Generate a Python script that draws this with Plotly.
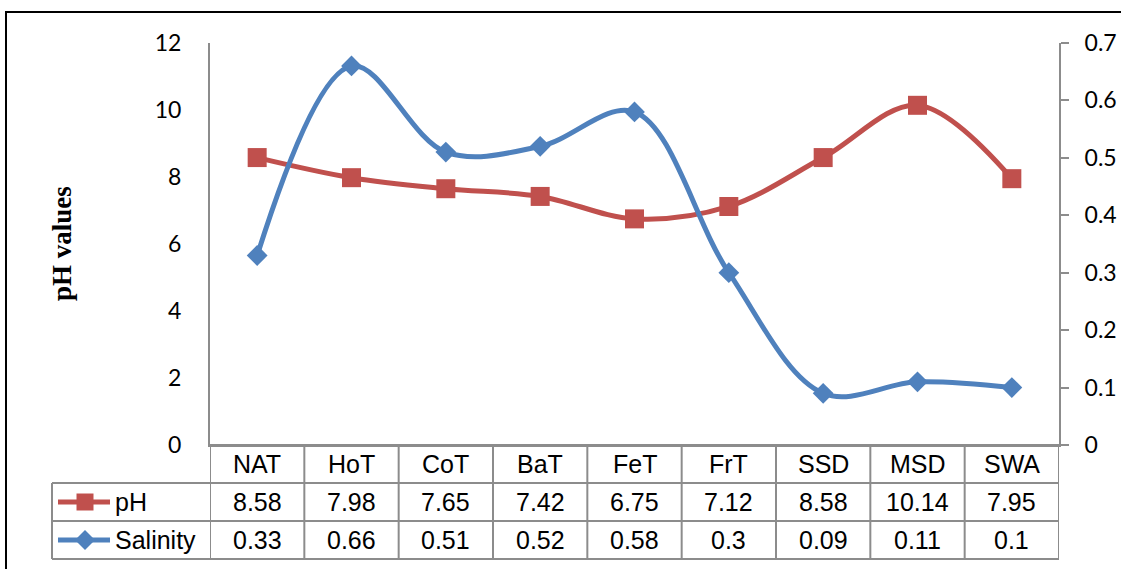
import plotly.graph_objects as go

# Sampling sites and measured values
categories = ["NAT", "HoT", "CoT", "BaT", "FeT", "FrT", "SSD", "MSD", "SWA"]
ph_values = [8.58, 7.98, 7.65, 7.42, 6.75, 7.12, 8.58, 10.14, 7.95]
salinity_values = [0.33, 0.66, 0.51, 0.52, 0.58, 0.3, 0.09, 0.11, 0.1]
ph_ticks = [0, 2, 4, 6, 8, 10, 12]
salinity_ticks = [0, 0.1, 0.2, 0.3, 0.4, 0.5, 0.6, 0.7]

W, H = 1121, 569
RED = "#C0504D"
BLUE = "#4F81BD"
GRID = "#8C8C8C"
TICK_FONT = dict(family="Lato", size=23, color="#000000")
TABLE_FONT = dict(family="Liberation Sans", size=25, color="#000000")


def px(x):
    return x / W


def py(y):
    return 1 - y / H


# plot area (pixels)
L, R, T, B = 210, 1059, 43, 445
# data table rows (pixels)
ROW_Y = [445, 483, 521, 559]
TABLE_LEFT = 52

fig = go.Figure()

fig.add_trace(go.Scatter(
    x=list(range(len(categories))), y=ph_values, name="pH",
    mode="lines+markers",
    line=dict(color=RED, width=5, shape="spline", smoothing=1),
    marker=dict(symbol="square", size=19, color=RED),
    yaxis="y", showlegend=False,
))
fig.add_trace(go.Scatter(
    x=list(range(len(categories))), y=salinity_values, name="Salinity",
    mode="lines+markers",
    line=dict(color=BLUE, width=5, shape="spline", smoothing=1),
    marker=dict(symbol="diamond", size=16, color=BLUE),
    yaxis="y2", showlegend=False,
))

fig.update_layout(
    width=W, height=H,
    margin=dict(l=0, r=0, t=0, b=0, pad=0, autoexpand=False),
    paper_bgcolor="white", plot_bgcolor="white",
    xaxis=dict(
        domain=[px(L), px(R)], range=[-0.5, len(categories) - 0.5],
        showgrid=False, zeroline=False, showticklabels=False, ticks="",
        showline=True, linecolor=GRID, linewidth=2, fixedrange=True,
        automargin=False,
    ),
    yaxis=dict(
        domain=[py(B), py(T)], range=[0, 12], tickvals=ph_ticks,
        showgrid=False, zeroline=False, ticks="",
        showline=True, linecolor=GRID, linewidth=2,
        tickfont=TICK_FONT, ticklabelstandoff=22, automargin=False,
    ),
    yaxis2=dict(
        domain=[py(B), py(T)], range=[0, 0.7], tickvals=salinity_ticks,
        overlaying="y", side="right", anchor="x",
        showgrid=False, zeroline=False,
        ticks="outside", ticklen=8, tickcolor=GRID, tickwidth=2,
        showline=True, linecolor=GRID, linewidth=2,
        tickfont=TICK_FONT, ticklabelstandoff=11, automargin=False,
    ),
)

shapes = []
line_style = dict(color=GRID, width=2)

# horizontal rules of the data table
for i, yy in enumerate(ROW_Y):
    x0 = L if i == 0 else TABLE_LEFT
    shapes.append(dict(type="line", xref="paper", yref="paper",
                       x0=px(x0), x1=px(R), y0=py(yy), y1=py(yy), line=line_style))
# vertical rules between categories
for i in range(len(categories) + 1):
    shapes.append(dict(type="line", xref="x", yref="paper",
                       x0=i - 0.5, x1=i - 0.5, y0=py(ROW_Y[0]), y1=py(ROW_Y[-1]),
                       line=line_style))
# left edge of the series-name column
shapes.append(dict(type="line", xref="paper", yref="paper",
                   x0=px(TABLE_LEFT), x1=px(TABLE_LEFT), y0=py(ROW_Y[1]), y1=py(ROW_Y[-1]),
                   line=line_style))

# legend keys inside the table
key_x0, key_x1, key_cx = 58, 110, 85
rows_mid = [(ROW_Y[1] + ROW_Y[2]) / 2, (ROW_Y[2] + ROW_Y[3]) / 2]
for color, cy in zip([RED, BLUE], rows_mid):
    shapes.append(dict(type="line", xref="paper", yref="paper",
                       x0=px(key_x0), x1=px(key_x1), y0=py(cy), y1=py(cy),
                       line=dict(color=color, width=5)))
s = 8.5
shapes.append(dict(type="rect", xref="paper", yref="paper",
                   x0=px(key_cx - s), x1=px(key_cx + s),
                   y0=py(rows_mid[0] + s), y1=py(rows_mid[0] - s),
                   fillcolor=RED, line=dict(width=0)))
d = 10
cy = rows_mid[1]
shapes.append(dict(type="path", xref="paper", yref="paper",
                   path=(f"M {px(key_cx - d)} {py(cy)} L {px(key_cx)} {py(cy - d)} "
                         f"L {px(key_cx + d)} {py(cy)} L {px(key_cx)} {py(cy + d)} Z"),
                   fillcolor=BLUE, line=dict(width=0)))

# outer frame
shapes.append(dict(type="rect", xref="paper", yref="paper",
                   x0=px(6), x1=px(W + 10), y0=py(H + 10), y1=py(12),
                   line=dict(color="black", width=2), fillcolor="rgba(0,0,0,0)"))

annotations = []
header_mid = (ROW_Y[0] + ROW_Y[1]) / 2
for i, cat in enumerate(categories):
    annotations.append(dict(x=i, y=py(header_mid), xref="x", yref="paper",
                            text=cat, showarrow=False, font=TABLE_FONT,
                            xanchor="center", yanchor="middle"))
for i, v in enumerate(ph_values):
    annotations.append(dict(x=i, y=py(rows_mid[0]), xref="x", yref="paper",
                            text=f"{v:g}", showarrow=False, font=TABLE_FONT,
                            xanchor="center", yanchor="middle"))
for i, v in enumerate(salinity_values):
    annotations.append(dict(x=i, y=py(rows_mid[1]), xref="x", yref="paper",
                            text=f"{v:g}", showarrow=False, font=TABLE_FONT,
                            xanchor="center", yanchor="middle"))
for name, cy in zip(["pH", "Salinity"], rows_mid):
    annotations.append(dict(x=px(113), y=py(cy), xref="paper", yref="paper",
                            text=name, showarrow=False, font=TABLE_FONT,
                            xanchor="left", yanchor="middle"))

# left axis title
annotations.append(dict(x=px(62), y=py(244), xref="paper", yref="paper",
                        text="<b>pH values</b>", textangle=-90, showarrow=False,
                        font=dict(family="Liberation Serif", size=27, color="black"),
                        xanchor="center", yanchor="middle"))

fig.update_layout(shapes=shapes, annotations=annotations)

fig.write_html("out.html")
